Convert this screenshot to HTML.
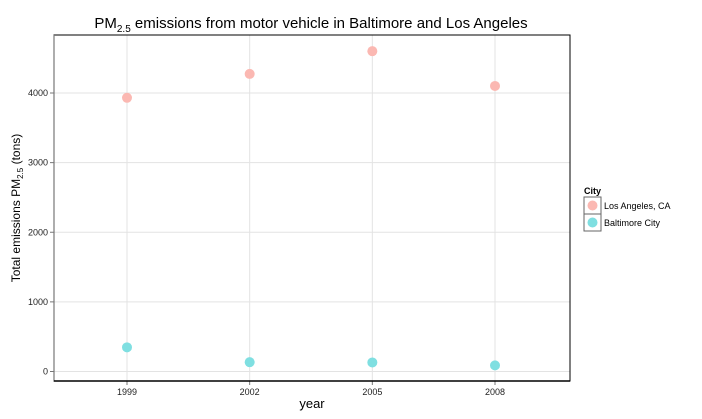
<!DOCTYPE html>
<html><head><meta charset="utf-8"><style>
body{margin:0;background:#fff;}
svg{display:block;font-family:"Liberation Sans",sans-serif;}
</style></head><body>
<svg id="chart" width="702" height="419" viewBox="0 0 702 419">
<text x="311" y="28" font-size="15" text-anchor="middle" fill="#000">PM<tspan font-size="10" dy="4">2.5</tspan><tspan dy="-4"> emissions from motor vehicle in Baltimore and Los Angeles</tspan></text>
<g id="grid"></g>
<rect x="54" y="35" width="516" height="346" fill="none" stroke="#000" stroke-width="1"/>
<line x1="54" y1="35" x2="54" y2="381" stroke="#777" stroke-width="1.2"/>
<line x1="54" y1="381" x2="570" y2="381" stroke="#000" stroke-width="1.5"/>
<g id="points"></g>
<g id="ticks" font-size="9" fill="#222"></g>
<text x="312" y="408" font-size="13" text-anchor="middle">year</text>
<text transform="translate(20,208) rotate(-90)" font-size="12" text-anchor="middle">Total emissions  PM<tspan font-size="8" dy="3">2.5</tspan><tspan dy="-3"> (tons)</tspan></text>
<g>
<text x="584" y="194" font-size="9" font-weight="bold">City</text>
<rect x="584" y="197" width="17" height="17" fill="#fff" stroke="#666"/>
<rect x="584" y="214" width="17" height="17" fill="#fff" stroke="#666"/>
<circle cx="592.5" cy="205.5" r="5" fill="#fbb8b2"/>
<circle cx="592.5" cy="222.5" r="5" fill="#7fdfe1"/>
<text x="604" y="209" font-size="9">Los Angeles, CA</text>
<text x="604" y="226" font-size="9">Baltimore City</text>
</g>
</svg>
<script>
const years=[1999,2002,2005,2008];
const laValues=[3931,4274,4601,4101];
const baltValues=[347,134,130,88];
const yTicks=[0,1000,2000,3000,4000];
const NS="http://www.w3.org/2000/svg";
function xs(y){return 127+(y-1999)*(495-127)/9;}
function ys(v){return 371.5-v*(371.5-93)/4000;}
const grid=document.getElementById('grid'),pts=document.getElementById('points'),tk=document.getElementById('ticks');
yTicks.forEach(t=>{
 const l=document.createElementNS(NS,'line');
 l.setAttribute('x1',54);l.setAttribute('x2',570);l.setAttribute('y1',ys(t));l.setAttribute('y2',ys(t));
 l.setAttribute('stroke','#e3e3e3');l.setAttribute('stroke-width','1');
 
 
 grid.appendChild(l);
 const m=document.createElementNS(NS,'line');
 m.setAttribute('x1',50);m.setAttribute('x2',54);m.setAttribute('y1',ys(t));m.setAttribute('y2',ys(t));
 m.setAttribute('stroke','#777');
 
 
 grid.appendChild(m);
 const tx=document.createElementNS(NS,'text');
 tx.setAttribute('x',48);tx.setAttribute('y',ys(t)+3);tx.setAttribute('text-anchor','end');tx.textContent=t;
 
 
 tk.appendChild(tx);
});
years.forEach(y=>{
 const l=document.createElementNS(NS,'line');
 l.setAttribute('x1',xs(y));l.setAttribute('x2',xs(y));l.setAttribute('y1',35);l.setAttribute('y2',381);
 l.setAttribute('stroke','#e3e3e3');l.setAttribute('stroke-width','1');
 
 
 grid.appendChild(l);
 const m=document.createElementNS(NS,'line');
 m.setAttribute('x1',xs(y));m.setAttribute('x2',xs(y));m.setAttribute('y1',381);m.setAttribute('y2',385);
 m.setAttribute('stroke','#777');
 
 
 grid.appendChild(m);
 const tx=document.createElementNS(NS,'text');
 tx.setAttribute('x',xs(y));tx.setAttribute('y',395);tx.setAttribute('text-anchor','middle');tx.textContent=y;
 
 
 tk.appendChild(tx);
});
function dots(vals,color,name){
 vals.forEach((v,i)=>{
  const c=document.createElementNS(NS,'circle');
  c.setAttribute('cx',xs(years[i]));c.setAttribute('cy',ys(v));c.setAttribute('r',5);c.setAttribute('fill',color);
  
  
  pts.appendChild(c);
 });
}
dots(laValues,'#fbb8b2','point-los-angeles');
dots(baltValues,'#7fdfe1','point-baltimore');
</script>
</body></html>
